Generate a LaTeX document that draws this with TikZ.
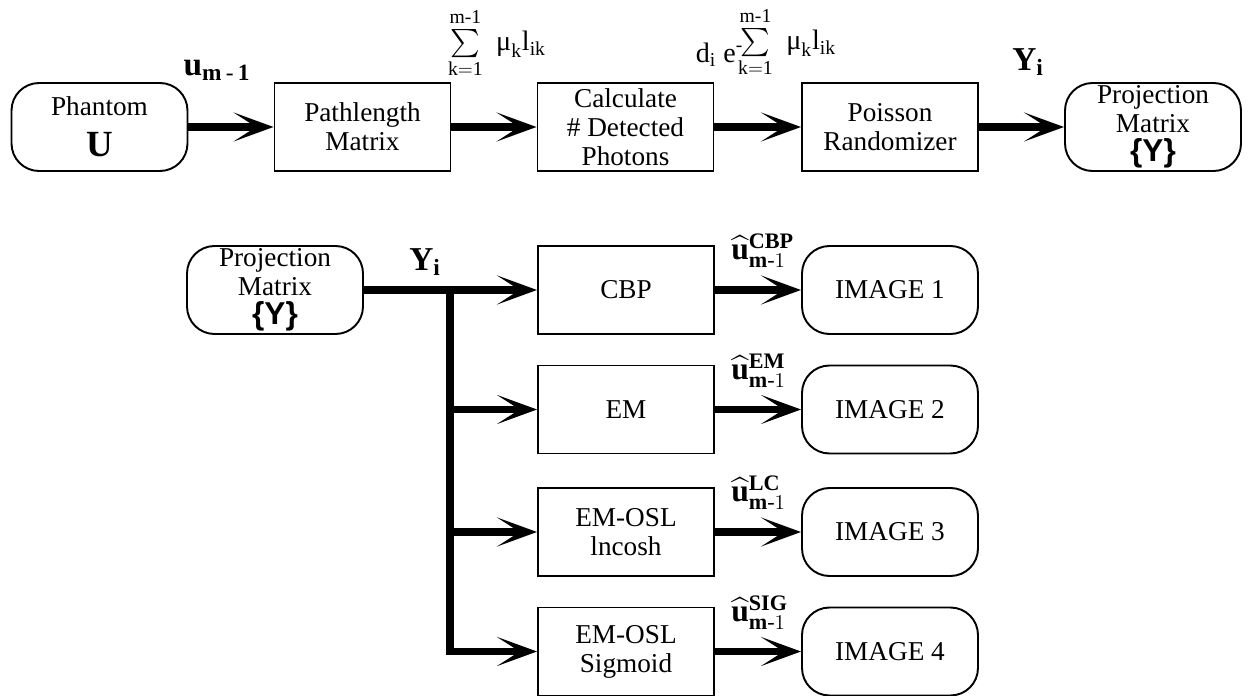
\documentclass[tikz,border=0pt]{standalone}
\usepackage{amsmath,amssymb}
\usepackage{fontspec}
\setmainfont{Liberation Serif}
\setsansfont{Liberation Sans}
\usetikzlibrary{calc}
\usetikzlibrary{arrows.meta}

\begin{document}
\begin{tikzpicture}[x=0.02cm, y=-0.02cm,
  block/.style={draw, line width=1.1pt, minimum width=3.52cm, minimum height=1.76cm,
    align=center, inner sep=0pt, font=\fontsize{15.5}{16.5}\selectfont},
  roundblock/.style={block, rounded corners=0.55cm},
  flow/.style={line width=4.5pt, -{Stealth[length=0.8cm, width=0.58cm, inset=0.45cm]}},
  bus/.style={line width=4.5pt},
  tag/.style={inner sep=0pt, font=\fontsize{15.5}{16.5}\selectfont}]

  \useasboundingbox (0,0) rectangle (1251,696);

  % simulation chain
  \node[roundblock] (Phantom) at (99.5,127) {Phantom\\[7pt]{\fontsize{21}{21}\selectfont\bfseries U}};
  \node[block] (PathMatrix) at (362.5,127) {Pathlength\\Matrix};
  \node[block] (CalcPhotons) at (625.5,127) {Calculate\\\# Detected\\Photons};
  \node[block] (Poisson) at (890,127) {Poisson\\Randomizer};
  \node[roundblock] (ProjTop) at (1153,127) {Projection\\Matrix\\{\fontsize{18}{16}\selectfont\sffamily\bfseries\{Y\}}};

  \draw[flow] (Phantom) -- (PathMatrix);
  \draw[flow] (PathMatrix) -- (CalcPhotons);
  \draw[flow] (CalcPhotons) -- (Poisson);
  \draw[flow] (Poisson) -- (ProjTop);

  \node[tag, font=\fontsize{19}{20}\selectfont] (UTrue) at (217,70) {$\mathbf{u}_{\mathbf{m}\,\text{-}\,\mathbf{1}}$};
  \node[tag, font=\fontsize{16}{17}\selectfont] (PathSum) at (497,43)
    {$\sum\limits_{\mathrm{k=1}}^{\mathrm{m\text{-}1}}\;\text{μ}_{\mathrm{k}}\mathrm{l}_{\mathrm{ik}}$};
  \node[tag, font=\fontsize{16}{17}\selectfont] (PhotonExp) at (766,42)
    {$\mathrm{d}_{\mathrm{i}}\ \mathrm{e}^{\text{-}}\!\raisebox{7pt}{$\sum\limits_{\mathrm{k=1}}^{\mathrm{m\text{-}1}}\;\text{μ}_{\mathrm{k}}\mathrm{l}_{\mathrm{ik}}$}$};
  \node[tag, font=\fontsize{19}{20}\selectfont] (YTop) at (1028,62) {$\mathbf{Y}_{\mathbf{i}}$};

  % reconstruction
  \node[roundblock] (ProjBot) at (275,290) {Projection\\Matrix\\{\fontsize{18}{16}\selectfont\sffamily\bfseries\{Y\}}};
  \node[block] (CBP) at (626,290) {CBP};
  \node[block] (EM) at (626,409.5) {EM};
  \node[block] (Lncosh) at (626,532) {EM-OSL\\lncosh};
  \node[block] (Sigmoid) at (626,651.5) {EM-OSL\\Sigmoid};
  \foreach \i/\y in {1/290, 2/409.5, 3/532, 4/651.5}
    \node[roundblock] (Image\i) at (890,\y) {IMAGE \i};

  \coordinate (Split) at (450,290);
  \node[tag, font=\fontsize{19}{20}\selectfont] (YBot) at (425,262) {$\mathbf{Y}_{\mathbf{i}}$};

  \draw[bus] (ProjBot.east) -- (Split);
  \draw[flow] (Split) -- (CBP);
  \draw[bus, line cap=rect] (Split) -- (Split |- Sigmoid.west);
  \foreach \blk in {EM, Lncosh, Sigmoid}
    \draw[flow] (Split |- \blk.west) -- (\blk.west);

  \foreach \blk/\i/\est in {CBP/1/CBP, EM/2/EM, Lncosh/3/LC, Sigmoid/4/SIG}
  {
    \draw[flow] (\blk) -- (Image\i);
    \node[tag, anchor=south west, font=\fontsize{18}{20}\selectfont] (Hat\est) at ($(\blk.east)+(16,-22)$)
      {$\widehat{\mathbf{u}}^{\mathbf{\est}}_{\mathbf{m}\text{-}1}$};
  }

\end{tikzpicture}
\end{document}
